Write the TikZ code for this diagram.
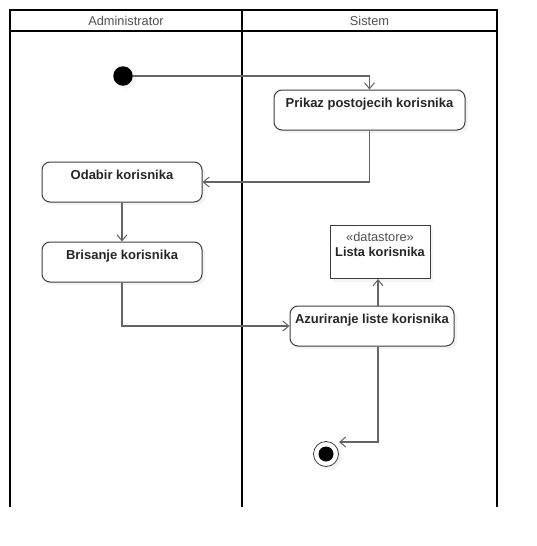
\documentclass[tikz,border=0pt]{standalone}
\usepackage{fontspec}
\setmainfont{Liberation Sans}
\usetikzlibrary{arrows.meta,shadows}
\definecolor{lanetext}{RGB}{80,80,80}
\definecolor{nodeline}{RGB}{60,60,60}
\definecolor{flowline}{RGB}{100,100,100}
\begin{document}
\begin{tikzpicture}[
    x=1pt, y=-1pt,
    font=\fontsize{12.8}{14.5}\selectfont,
    shade/.style={drop shadow={shadow xshift=3pt, shadow yshift=-3pt, fill=black!9}},
    action/.style={rectangle, draw=nodeline, line width=1pt, rounded corners=8pt, fill=white, shade,
        minimum width=160pt, minimum height=40pt, inner ysep=0pt,
        text height=17.5pt, text depth=22.5pt, font=\fontsize{13}{14.5}\selectfont\bfseries, text=black!85},
    store/.style={rectangle, draw=nodeline, line width=1pt, fill=white, shade,
        minimum width=100pt, minimum height=53pt, align=center, inner ysep=0pt,
        text height=30.5pt, text depth=22.5pt, text=black!85},
    lane/.style={line width=2pt, draw=black},
    lanename/.style={text=lanetext, inner sep=0pt},
    flow/.style={draw=flowline, line width=1.2pt, -{Straight Barb[length=6pt,width=10pt,line width=1pt]}}
]
\useasboundingbox (0,0) rectangle (537,546);

% Swimlanes
\draw[lane] (10,507) -- (10,10) -- (497,10) -- (497,507);
\draw[lane] (10,31) -- (497,31);
\draw[lane] (242,10) -- (242,507);
\node[lanename] (admin) at (126,20.5) {Administrator};
\node[lanename] (sistem) at (369.5,20.5) {Sistem};

% Start and end
\node[circle, fill=black, minimum size=19.5pt, inner sep=0pt, shade] (init) at (123,76) {};
\node[circle, draw=nodeline, line width=0.8pt, fill=white, minimum size=25pt, inner sep=0pt, shade] (final) at (326,454) {};
\node[circle, fill=black, minimum size=15pt, inner sep=0pt] (finaldot) at (final) {};
\coordinate (finalin) at (339,442);

% Actions
\node[action, minimum width=191pt] (prikaz) at (369.5,110) {Prikaz postojecih korisnika};
\node[action] (odabir) at (122,182) {Odabir korisnika};
\node[action] (brisanje) at (122,262) {Brisanje korisnika};
\node[action, minimum width=164pt] (azuriranje) at (372,326) {Azuriranje liste korisnika};
\node[store] (lista) at (380,252) {{\color{lanetext}«datastore»}\\\bfseries Lista korisnika};

% Flows
\draw[flow] (init.east) -| (prikaz.north);
\draw[flow] (prikaz.south) |- (odabir.east);
\draw[flow] (odabir.south) -- (brisanje.north);
\draw[flow] (brisanje.south) |- (azuriranje.west);
\draw[flow] ([xshift=6pt]azuriranje.north) -- ([xshift=6pt]azuriranje.north |- lista.south);
\draw[flow] ([xshift=6pt]azuriranje.south) |- (finalin);

\end{tikzpicture}
\end{document}
